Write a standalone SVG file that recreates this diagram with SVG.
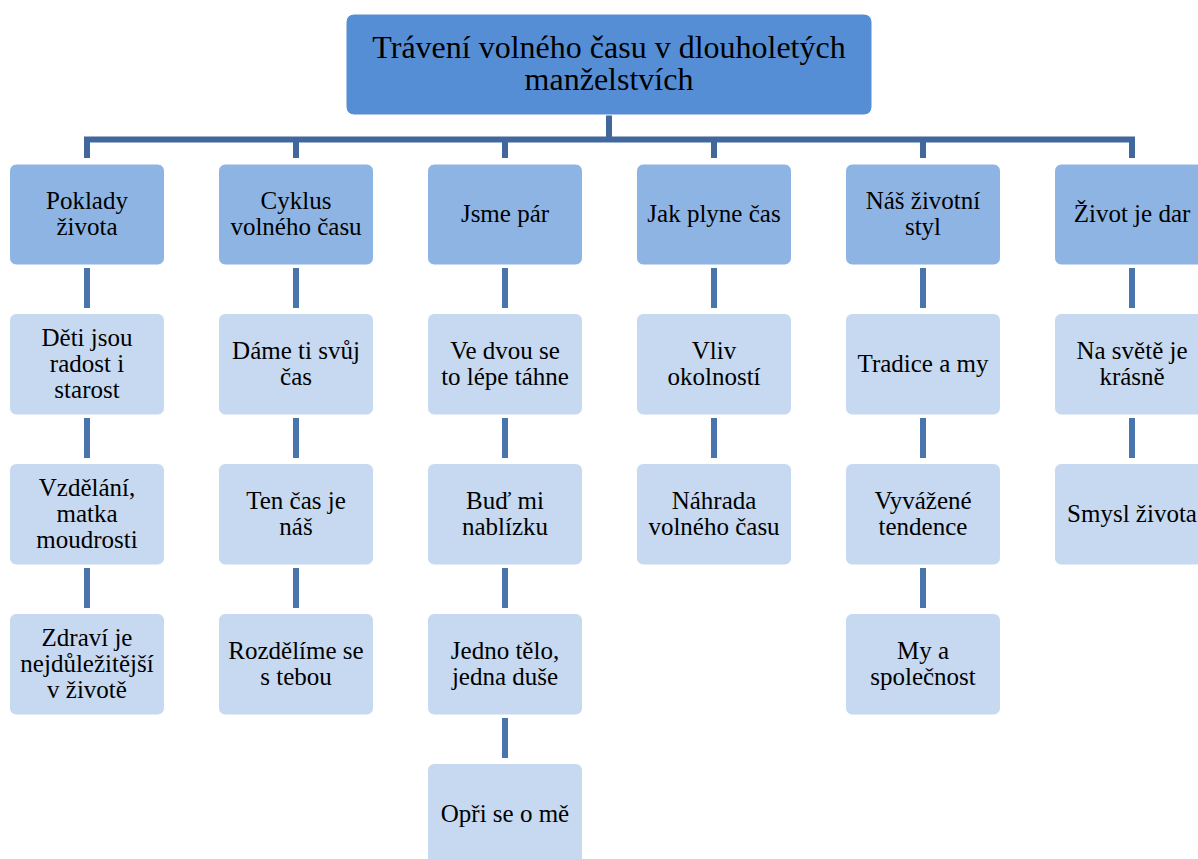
<svg xmlns="http://www.w3.org/2000/svg" width="1198" height="859" viewBox="0 0 1198 859">
<style>
text{font-family:"Liberation Serif","Times New Roman",serif;fill:#000;text-anchor:middle}
.t1,.t2{font-size:25px}
.t0{font-size:32px}
.r0{fill:#558ED5;stroke:#fff;stroke-width:1}
.r1{fill:#8EB4E3;stroke:#fff;stroke-width:1}
.r2{fill:#C6D9F1;stroke:#fff;stroke-width:1}
.bar{fill:none;stroke:#41689D;stroke-width:6;stroke-linejoin:miter}
.ln{stroke:#4A74AC;stroke-width:6}
</style>
<rect width="1198" height="859" fill="#fff"/>
<g id="connectors">
<path class="bar" d="M609 115V139.5M87 158V139.5H1132V158M296 139.5V158M505 139.5V158M714 139.5V158M923 139.5V158"/>
<path class="ln" d="M87 268V308M296 268V308M505 268V308M714 268V308M923 268V308M1132 268V308
M87 418V458M296 418V458M505 418V458M714 418V458M923 418V458M1132 418V458
M87 568V608M296 568V608M505 568V608M923 568V608
M505 718V758"/>
</g>
<g id="root"><rect class="r0" x="346" y="14" width="526" height="101" rx="8"/><text class="t0" x="609" y="57.5">Trávení volného času v dlouholetých</text><text class="t0" x="609" y="90">manželstvích</text></g>

<g id="n1"><rect class="r1" x="9.5" y="164" width="155" height="101" rx="7"/><text class="t1" x="87" y="209">Poklady</text><text class="t1" x="87" y="235">života</text></g>
<g id="n2"><rect class="r1" x="218.5" y="164" width="155" height="101" rx="7"/><text class="t1" x="296" y="209">Cyklus</text><text class="t1" x="296" y="235">volného času</text></g>
<g id="n3"><rect class="r1" x="427.5" y="164" width="155" height="101" rx="7"/><text class="t1" x="505" y="222">Jsme pár</text></g>
<g id="n4"><rect class="r1" x="636.5" y="164" width="155" height="101" rx="7"/><text class="t1" x="714" y="222">Jak plyne čas</text></g>
<g id="n5"><rect class="r1" x="845.5" y="164" width="155" height="101" rx="7"/><text class="t1" x="923" y="209">Náš životní</text><text class="t1" x="923" y="235">styl</text></g>
<g id="n6"><rect class="r1" x="1054.5" y="164" width="155" height="101" rx="7"/><text class="t1" x="1132" y="222">Život je dar</text></g>

<g id="n1a"><rect class="r2" x="9.5" y="313.5" width="155" height="101.5" rx="7"/><text class="t2" x="87" y="345.5">Děti jsou</text><text class="t2" x="87" y="371.5">radost i</text><text class="t2" x="87" y="397.5">starost</text></g>
<g id="n1b"><rect class="r2" x="9.5" y="463.5" width="155" height="101.5" rx="7"/><text class="t2" x="87" y="495.5">Vzdělání,</text><text class="t2" x="87" y="521.5">matka</text><text class="t2" x="87" y="547.5">moudrosti</text></g>
<g id="n1c"><rect class="r2" x="9.5" y="613.5" width="155" height="101.5" rx="7"/><text class="t2" x="87" y="645.5">Zdraví je</text><text class="t2" x="87" y="671.5">nejdůležitější</text><text class="t2" x="87" y="697.5">v životě</text></g>

<g id="n2a"><rect class="r2" x="218.5" y="313.5" width="155" height="101.5" rx="7"/><text class="t2" x="296" y="358.5">Dáme ti svůj</text><text class="t2" x="296" y="384.5">čas</text></g>
<g id="n2b"><rect class="r2" x="218.5" y="463.5" width="155" height="101.5" rx="7"/><text class="t2" x="296" y="508.5">Ten čas je</text><text class="t2" x="296" y="534.5">náš</text></g>
<g id="n2c"><rect class="r2" x="218.5" y="613.5" width="155" height="101.5" rx="7"/><text class="t2" x="296" y="658.5">Rozdělíme se</text><text class="t2" x="296" y="684.5">s tebou</text></g>

<g id="n3a"><rect class="r2" x="427.5" y="313.5" width="155" height="101.5" rx="7"/><text class="t2" x="505" y="358.5">Ve dvou se</text><text class="t2" x="505" y="384.5">to lépe táhne</text></g>
<g id="n3b"><rect class="r2" x="427.5" y="463.5" width="155" height="101.5" rx="7"/><text class="t2" x="505" y="508.5">Buď mi</text><text class="t2" x="505" y="534.5">nablízku</text></g>
<g id="n3c"><rect class="r2" x="427.5" y="613.5" width="155" height="101.5" rx="7"/><text class="t2" x="505" y="658.5">Jedno tělo,</text><text class="t2" x="505" y="684.5">jedna duše</text></g>
<g id="n3d"><rect class="r2" x="427.5" y="763.5" width="155" height="101.5" rx="7"/><text class="t2" x="505" y="821.5">Opři se o mě</text></g>

<g id="n4a"><rect class="r2" x="636.5" y="313.5" width="155" height="101.5" rx="7"/><text class="t2" x="714" y="358.5">Vliv</text><text class="t2" x="714" y="384.5">okolností</text></g>
<g id="n4b"><rect class="r2" x="636.5" y="463.5" width="155" height="101.5" rx="7"/><text class="t2" x="714" y="508.5">Náhrada</text><text class="t2" x="714" y="534.5">volného času</text></g>

<g id="n5a"><rect class="r2" x="845.5" y="313.5" width="155" height="101.5" rx="7"/><text class="t2" x="923" y="371.5">Tradice a my</text></g>
<g id="n5b"><rect class="r2" x="845.5" y="463.5" width="155" height="101.5" rx="7"/><text class="t2" x="923" y="508.5">Vyvážené</text><text class="t2" x="923" y="534.5">tendence</text></g>
<g id="n5c"><rect class="r2" x="845.5" y="613.5" width="155" height="101.5" rx="7"/><text class="t2" x="923" y="658.5">My a</text><text class="t2" x="923" y="684.5">společnost</text></g>

<g id="n6a"><rect class="r2" x="1054.5" y="313.5" width="155" height="101.5" rx="7"/><text class="t2" x="1132" y="358.5">Na světě je</text><text class="t2" x="1132" y="384.5">krásně</text></g>
<g id="n6b"><rect class="r2" x="1054.5" y="463.5" width="155" height="101.5" rx="7"/><text class="t2" x="1132" y="521.5">Smysl života</text></g>
</svg>
